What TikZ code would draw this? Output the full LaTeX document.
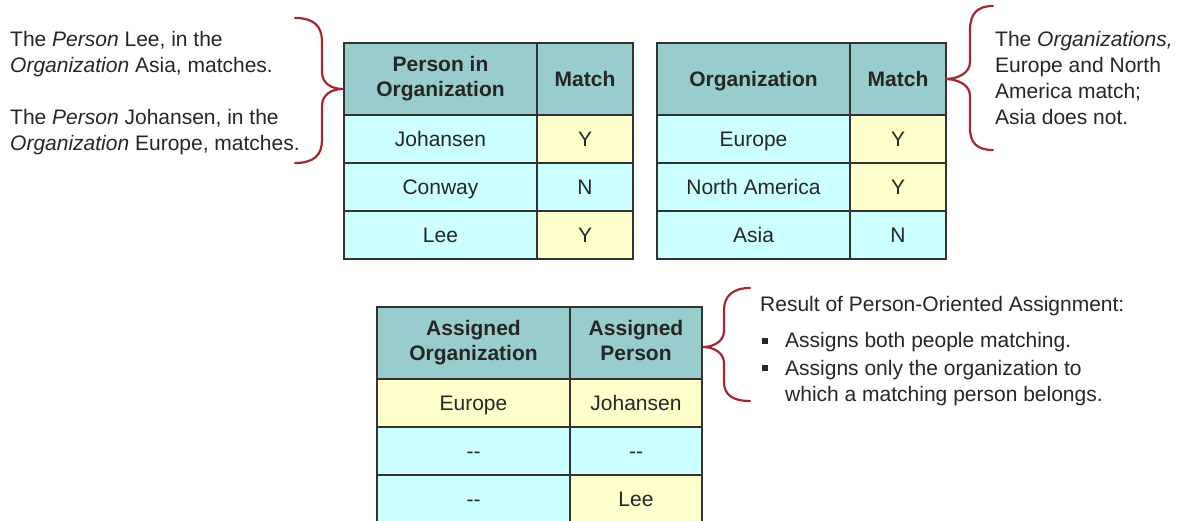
\documentclass[tikz,border=0pt]{standalone}
\usepackage{fontspec}
\setmainfont{Liberation Sans}
\usetikzlibrary{positioning}
\definecolor{headteal}{HTML}{99CCCC}
\definecolor{cellcyan}{HTML}{CCFFFF}
\definecolor{cellyellow}{HTML}{FFFFCC}
\definecolor{bracered}{HTML}{A3282F}
\newcommand\cellfont{\fontsize{21}{25}\selectfont}
\newcommand\notefont{\fontsize{21}{26}\selectfont}
\newcommand\cellstrut{\rule[-4.5pt]{0pt}{24pt}}
\tikzset{
  cell/.style={draw=black!80, line width=1.2pt, minimum height=48pt, inner sep=0pt,
    align=center, font=\cellfont, text=black!85,
    execute at begin node=\cellstrut, execute at end node=\cellstrut},
  head/.style={cell, fill=headteal, minimum height=72pt, font=\cellfont\bfseries},
  note/.style={inner sep=0pt, align=left, font=\notefont, text=black!85},
  curly/.style={draw=bracered, line width=2.2pt, line cap=round}
}

\begin{document}
\begin{tikzpicture}[x=1pt, y=-1pt]
\useasboundingbox (0,0) rectangle (1178,521);

% person in organization
\node[head, minimum width=193pt] (pio-h1) at (440.5,79) {Person in\\Organization};
\node[head, minimum width=96pt] (pio-h2) at (585,79) {Match};
\foreach \name/\m/\mcol [count=\i] in {Johansen/Y/cellyellow, Conway/N/cellcyan, Lee/Y/cellyellow} {
  \node[cell, fill=cellcyan, minimum width=193pt] (pio-\i-1) at (440.5, {91+48*\i}) {\name};
  \node[cell, fill=\mcol, minimum width=96pt] (pio-\i-2) at (585, {91+48*\i}) {\m};
}

% organization
\node[head, minimum width=193pt] (org-h1) at (753.5,79) {Organization};
\node[head, minimum width=96pt] (org-h2) at (898,79) {Match};
\foreach \name/\m/\mcol [count=\i] in {Europe/Y/cellyellow, North America/Y/cellyellow, Asia/N/cellcyan} {
  \node[cell, fill=cellcyan, minimum width=193pt] (org-\i-1) at (753.5, {91+48*\i}) {\name};
  \node[cell, fill=\mcol, minimum width=96pt] (org-\i-2) at (898, {91+48*\i}) {\m};
}

% assignment result
\node[head, minimum width=193pt] (asg-h1) at (473.5,343) {Assigned\\Organization};
\node[head, minimum width=132pt] (asg-h2) at (636,343) {Assigned\\Person};
\foreach \o/\ocol/\p/\pcol [count=\i] in {Europe/cellyellow/Johansen/cellyellow, -{}-/cellcyan/-{}-/cellcyan, -{}-/cellcyan/Lee/cellyellow} {
  \node[cell, fill=\ocol, minimum width=193pt] (asg-\i-1) at (473.5, {355+48*\i}) {\o};
  \node[cell, fill=\pcol, minimum width=132pt] (asg-\i-2) at (636, {355+48*\i}) {\p};
}

% notes (base = last line)
\node[note, anchor=base west] (note-pers) at (10,151)
  {The \textit{Person} Lee, in the\\\textit{Organization} Asia, matches.\\[26pt]The \textit{Person} Johansen, in the\\\textit{Organization} Europe, matches.};
\node[note, anchor=base west] (note-org) at (995,125)
  {The \textit{Organizations,}\\Europe and North\\America match;\\Asia does not.};
\node[note, anchor=base west] (note-res) at (760,312) {Result of Person-Oriented Assignment:};
\node[note, anchor=base west] (note-i1) at (785,348) {Assigns both people matching.};
\node[note, anchor=base west] (note-i2) at (785,401) {Assigns only the organization to\\which a matching person belongs.};
\fill[black!85] (762,338) rectangle (768,344);
\fill[black!85] (762,365) rectangle (768,371);

% braces
\draw[curly] (295,18) .. controls (314,18) and (322,26) .. (322,42) -- (322,72)
  .. controls (322,83) and (331,89) .. (343,89) .. controls (331,89) and (322,95) .. (322,106)
  -- (322,140) .. controls (322,155) and (314,163) .. (295,163);
\draw[curly] (993,6) .. controls (977,6) and (970,14) .. (970,30) -- (970,62)
  .. controls (970,73) and (958,79) .. (945,79) .. controls (958,79) and (970,85) .. (970,96)
  -- (970,128) .. controls (970,143) and (977,150) .. (993,150);
\draw[curly] (750,288) .. controls (733,288) and (724,296) .. (724,310) -- (724,331)
  .. controls (724,341) and (714,347) .. (703,347) .. controls (714,347) and (724,353) .. (724,363)
  -- (724,382) .. controls (724,395) and (733,401) .. (750,401);
\end{tikzpicture}
\end{document}
